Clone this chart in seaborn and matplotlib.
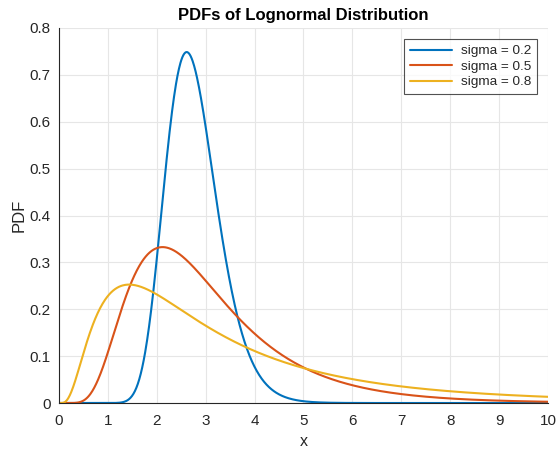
import numpy as np
import pandas as pd
import seaborn as sns
import matplotlib
matplotlib.use("Agg")
import matplotlib.pyplot as plt

# Lognormal parameters for each curve
mu = 1.0
sigmas = [0.2, 0.5, 0.8]
labels = ["sigma = 0.2", "sigma = 0.5", "sigma = 0.8"]
colors = ["#0072BD", "#D95319", "#EDB120"]

x_ticks = [0, 1, 2, 3, 4, 5, 6, 7, 8, 9, 10]
y_ticks = [0, 0.1, 0.2, 0.3, 0.4, 0.5, 0.6, 0.7, 0.8]
y_tick_labels = ["0", "0.1", "0.2", "0.3", "0.4", "0.5", "0.6", "0.7", "0.8"]

x = np.linspace(0.001, 10, 1000)


def lognormal_pdf(xv, m, s):
    return np.exp(-(np.log(xv) - m) ** 2 / (2 * s ** 2)) / (xv * s * np.sqrt(2 * np.pi))


frames = []
for s, lab in zip(sigmas, labels):
    frames.append(pd.DataFrame({"x": x, "PDF": lognormal_pdf(x, mu, s), "curve": lab}))
df = pd.concat(frames, ignore_index=True)

sns.set_theme(style="white")
plt.rcParams["font.family"] = ["Arial", "Liberation Sans", "DejaVu Sans"]

fig = plt.figure(figsize=(5.58, 4.5), dpi=100)
ax = fig.add_axes([0.1057, 0.1044, 0.8763, 0.8334])

sns.lineplot(data=df, x="x", y="PDF", hue="curve", palette=colors,
             hue_order=labels, linewidth=1.5, ax=ax)

ax.set_xlim(0, 10)
ax.set_ylim(0, 0.8)
ax.set_xticks(x_ticks)
ax.set_yticks(y_ticks)
ax.set_yticklabels(y_tick_labels)
ax.grid(True, color="#e6e6e6", linewidth=0.8)
ax.set_axisbelow(True)

for side in ["top", "right"]:
    ax.spines[side].set_visible(False)
for side in ["left", "bottom"]:
    ax.spines[side].set_color("#262626")
    ax.spines[side].set_linewidth(0.8)

ax.tick_params(axis="both", direction="in", length=4, width=0.8,
               colors="#262626", labelsize=11, labelcolor="#262626", pad=6)
ax.tick_params(axis="x", pad=8)

ax.set_xlabel("x", fontsize=11.5, color="#262626", labelpad=4)
ax.set_ylabel("PDF", fontsize=12, color="#262626", labelpad=2)
ax.set_title("PDFs of Lognormal Distribution", fontsize=12, fontweight="bold",
             color="black", pad=6)

leg = ax.legend(loc="upper right", fontsize=9.7, frameon=True, fancybox=False,
                edgecolor="#262626", handlelength=3.1, handletextpad=0.65,
                borderpad=0.45, borderaxespad=0, labelspacing=0.22,
                bbox_to_anchor=(0.9775, 0.9707))
leg.get_frame().set_linewidth(0.8)
for t in leg.get_texts():
    t.set_color("#262626")

fig.savefig("out.png", dpi=100, facecolor="white")
